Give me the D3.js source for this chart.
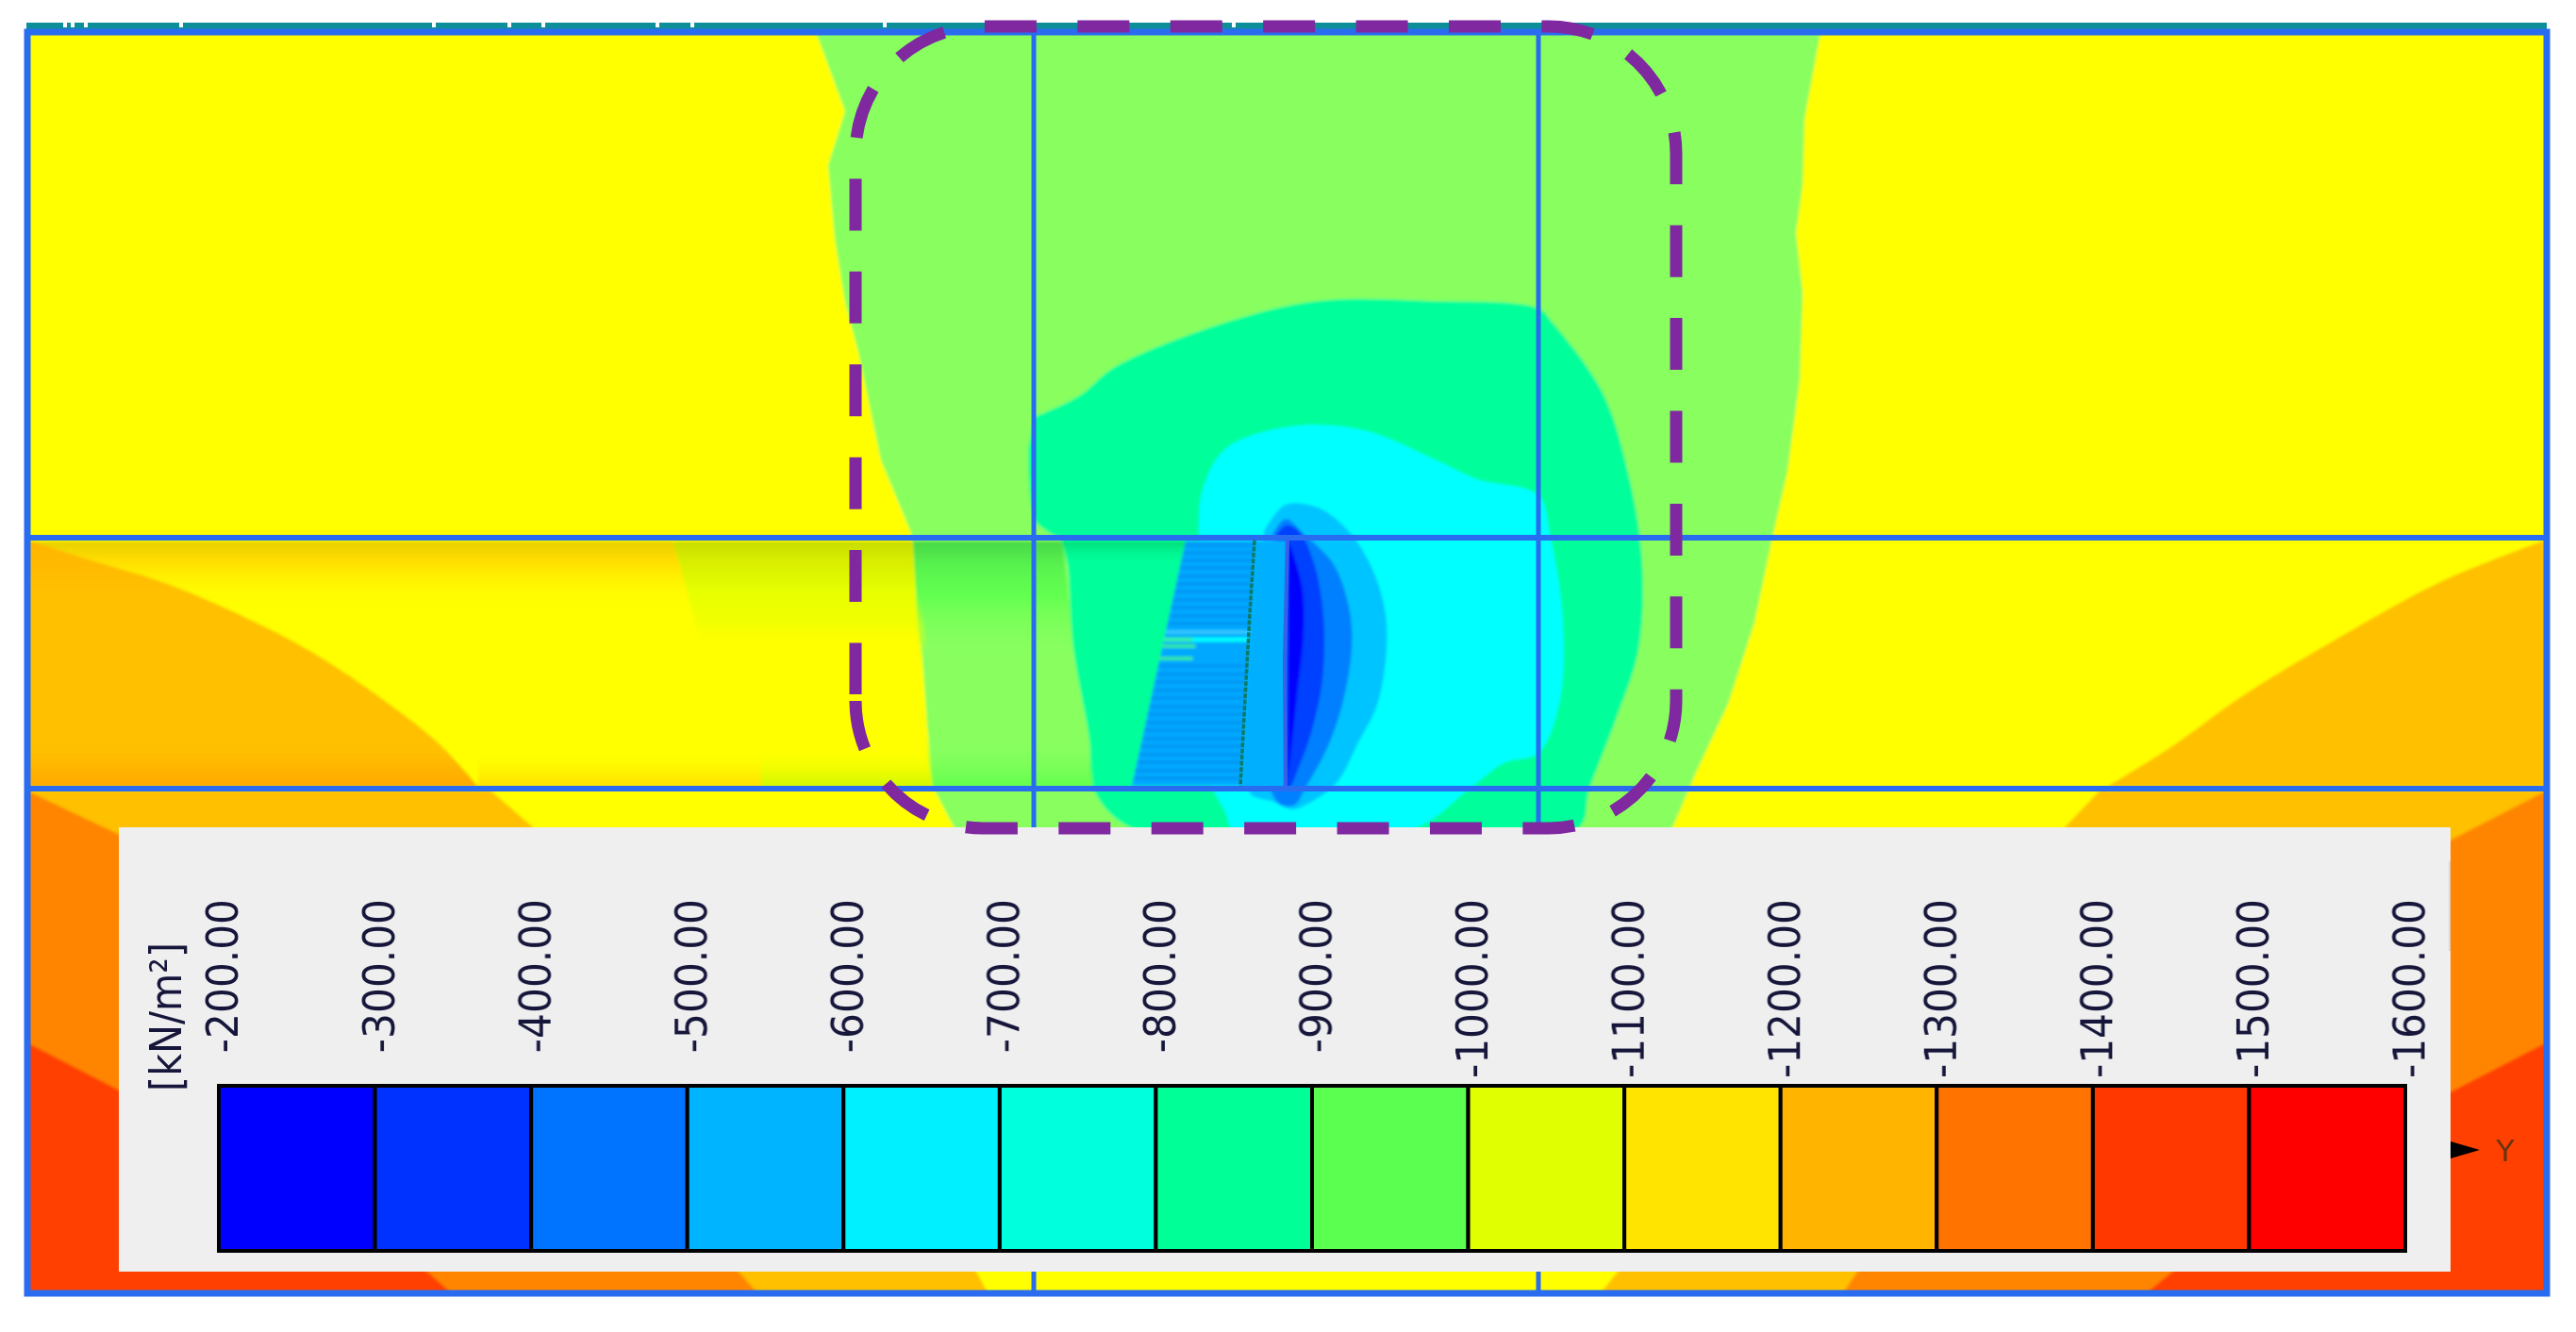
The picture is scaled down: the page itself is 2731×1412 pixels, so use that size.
<!DOCTYPE html>
<html>
<head>
<meta charset="utf-8">
<style>
    html, body { margin: 0; padding: 0; background: #fff; }
    svg { display: block; }
    .scale-label { font-family: "DejaVu Sans Condensed", "DejaVu Sans", sans-serif; fill: #15153a; }
</style>
</head>
<body>
<svg id="chart" width="2731" height="1412"></svg>
<script src="https://cdn.jsdelivr.net/npm/d3@7"></script>
<script>
// legend
const levelValues = [-200, -300, -400, -500, -600, -700, -800, -900, -1000, -1100, -1200, -1300, -1400, -1500, -1600];
const levelColors = ['#0000ff', '#0032ff', '#0073ff', '#00b4ff', '#00f0ff', '#00ffdc', '#00ff96', '#5aff50',
    '#e0ff00', '#ffe400', '#ffb400', '#ff7300', '#ff3700', '#ff0000'];
const unitLabel = '[kN/m²]';
const axisLabel = 'Y';

// contour outlines, [x, y] in model units
const gridX = [1096, 1631];
const gridY = [570, 836];
const lowerLeftGold = [[28, 838], [520, 838], [564, 876], [1035, 1348], [1048, 1372], [28, 1372]];
const lowerLeftOrange = [[28, 838], [125, 884], [784, 1349], [804, 1372], [28, 1372]];
const lowerLeftRed = [[28, 1105], [125, 1155], [453, 1348], [480, 1372], [28, 1372]];
const lowerRightGold = [[2700, 838], [2226, 838], [2189, 877], [1715, 1348], [1696, 1372], [2700, 1372]];
const lowerRightOrange = [[2700, 838], [2599, 890], [1969, 1348], [1953, 1372], [2700, 1372]];
const lowerRightRed = [[2700, 1105], [2599, 1157], [2303, 1348], [2274, 1372], [2700, 1372]];
const midLeftGold = [[28, 572], [96, 594], [172, 617], [255, 652], [332, 692], [408, 743], [466, 789], [507, 834]];
const midLeftGoldTail = [[28, 834]];
const midRightGold = [[2700, 572], [2589, 616], [2483, 674], [2377, 738], [2303, 791], [2234, 834]];
const midRightGoldTail = [[2700, 834]];
const greenZone = [[865, 34], [896, 118], [878, 175], [885, 253], [896, 321], [910, 373], [934, 488], [966, 565],
    [973, 631], [983, 769], [990, 836], [1013, 880], [1772, 880], [1797, 821], [1832, 746], [1860, 660], [1878, 574],
    [1895, 499], [1908, 402], [1911, 310], [1904, 247], [1911, 195], [1913, 126], [1930, 34]];
const tealZone = [[1096, 442], [1145, 419], [1180, 390], [1292, 344], [1397, 319], [1516, 319], [1631, 327], [1646, 342],
    [1699, 416], [1727, 505], [1741, 597], [1737, 689], [1713, 763], [1685, 836], [1671, 880], [1205, 880], [1159, 836],
    [1155, 786], [1138, 689], [1126, 574], [1113, 565], [1097, 551], [1090, 476]];
const cyanZone = [[1271, 565], [1274, 522], [1299, 476], [1369, 452], [1446, 456], [1523, 488], [1566, 508], [1631, 525],
    [1643, 565], [1657, 660], [1653, 746], [1631, 798], [1594, 809], [1558, 836], [1495, 880], [1308, 880], [1299, 861], [1285, 836]];
const lobeLightBlue = [[1340, 563], [1363, 535], [1397, 538], [1427, 560], [1450, 593], [1467, 640], [1470, 687], [1460, 747],
    [1440, 787], [1417, 830], [1390, 850], [1370, 858], [1350, 850], [1327, 843], [1323, 835]];
const lobeMidBlue = [[1350, 565], [1363, 550], [1383, 567], [1413, 597], [1430, 643], [1433, 687], [1423, 747], [1407, 793],
    [1383, 837], [1373, 853], [1357, 853], [1348, 840]];
const lobeDeepBlue = [[1353, 567], [1363, 557], [1377, 563], [1393, 597], [1403, 653], [1402, 720], [1390, 777], [1377, 813], [1367, 835], [1362, 835]];
const lobeCore = [[1366, 573], [1380, 620], [1382, 670], [1375, 737], [1368, 803], [1365, 825]];
const wallFace = [[1330, 573], [1364, 573], [1362, 835], [1315, 835]];
const soilWedge = [[1257, 573], [1330, 573], [1315, 833], [1200, 833]];
const wallLine = [[1330, 573], [1325, 650], [1320, 740], [1315, 833]];
const faceLine = [[1365, 572], [1362, 700], [1363, 835]];

// shaded bands along the wall layer
const bandTopLeft = [[31, 574], [714, 574], [735, 650], [31, 650]];
const bandTopYellowGreen = [[714, 574], [968, 574], [983, 690], [745, 690]];
const bandTopGreen = [[968, 574], [1126, 574], [1140, 700], [975, 700]];
const bandTopTeal = [[1126, 574], [1257, 574], [1250, 600], [1130, 600]];
const bandLowGold = [[507, 800], [807, 800], [807, 834], [507, 834]];
const bandLowYellowGreen = [[807, 795], [985, 795], [989, 834], [807, 834]];
const bandLowGreen = [[980, 780], [1155, 780], [1159, 834], [989, 834]];

// horizontal streaks in the soil wedge
const streakDark = [578, 586, 594, 602, 611, 619, 627, 636, 644, 653, 661, 706, 715, 723, 732, 740, 749, 757, 766, 774, 783, 791, 800, 808, 817, 825];
const streakLight = [670];
const streakBright = [678];
const streakGreen = [685, 698];

const topNicks = [67, 75, 89, 190, 458, 538, 574, 695, 732, 936, 1306];
const highlightBox = { left: 907, right: 1777, top: 28, bottom: 878, r: 135 };

const width = 2731, height = 1412;
const frame = { left: 29, right: 2700, top: 34, bottom: 1371 };
const panel = { left: 126, right: 2598, top: 877, bottom: 1348 };
const bar = { top: 1151, bottom: 1326, left: 232, right: 2550 };

const x = d3.scaleLinear().domain([28, 2700]).range([28, 2700]);
const y = d3.scaleLinear().domain([28, 1372]).range([28, 1372]);
const levelX = d3.scaleLinear().domain(d3.extent(levelValues).reverse()).range([bar.left, bar.right]);

const svg = d3.select('#chart');
const defs = svg.append('defs');
defs.append('filter').attr('id', 'soft').attr('x', 0).attr('y', 0).attr('width', 1).attr('height', 1)
    .append('feGaussianBlur').attr('stdDeviation', 1.4);
defs.append('filter').attr('id', 'softText').attr('x', '-5%').attr('y', '-5%').attr('width', '110%').attr('height', '110%')
    .append('feGaussianBlur').attr('stdDeviation', 0.7);

const outline = d3.line().x(d => x(d[0])).y(d => y(d[1]));
const smooth = d3.line().x(d => x(d[0])).y(d => y(d[1])).curve(d3.curveCatmullRom.alpha(0.5));
const closed = pts => outline(pts) + 'Z';
const closedSmooth = (pts, tail) => smooth(pts) + (tail || []).map(p => 'L' + x(p[0]) + ',' + y(p[1])).join('') + 'Z';

function verticalGradient(id, y0, y1, stops) {
    const g = defs.append('linearGradient').attr('id', id)
        .attr('gradientUnits', 'userSpaceOnUse')
        .attr('x1', 0).attr('x2', 0).attr('y1', y(y0)).attr('y2', y(y1));
    stops.forEach(s => g.append('stop').attr('offset', s[0]).attr('stop-color', s[1]).attr('stop-opacity', s[2]));
    return 'url(#' + id + ')';
}

const field = svg.append('g').attr('filter', 'url(#soft)');
const area = (pts, fill) => field.append('path').attr('d', closed(pts)).attr('fill', fill);
const smoothArea = (pts, fill, tail) => field.append('path').attr('d', closedSmooth(pts, tail)).attr('fill', fill);

area([[28, 34], [2700, 34], [2700, 1372], [28, 1372]], '#ffff00');
area(lowerLeftGold, '#ffc000');
area(lowerRightGold, '#ffc000');
area(lowerLeftOrange, '#ff8500');
area(lowerRightOrange, '#ff8500');
area(lowerLeftRed, '#ff4000');
area(lowerRightRed, '#ff4000');

area(bandTopLeft, verticalGradient('bandA', 574, 650, [[0, '#e6d000', 1], [0.25, '#ffdc00', 1], [0.55, '#fff000', 0.8], [1, '#ffff00', 0]]));
area(bandLowGold, verticalGradient('bandE', 800, 834, [[0, '#fff000', 0], [1, '#ffe000', 1]]));
smoothArea(midLeftGold, verticalGradient('goldFade', 574, 834, [[0, '#ffb400', 1], [0.2, '#ffc000', 1], [0.85, '#ffc000', 1], [1, '#ffa800', 1]]), midLeftGoldTail);
smoothArea(midRightGold, '#ffc000', midRightGoldTail);
area(greenZone, '#88ff5f');
smoothArea(tealZone, '#00ff9a');
smoothArea(cyanZone, '#00ffff');

area(bandTopYellowGreen, verticalGradient('bandB', 574, 690, [[0, '#c8dc00', 1], [0.18, '#d8ee00', 1], [0.45, '#e6ff00', 1], [0.75, '#f0ff00', 0.9], [1, '#ffff00', 0]]));
area(bandTopGreen, verticalGradient('bandC', 574, 700, [[0, '#48d848', 1], [0.2, '#58f24e', 1], [0.45, '#62ff50', 1], [1, '#88ff5f', 0]]));
area(bandTopTeal, verticalGradient('bandD', 574, 600, [[0, '#00dc78', 1], [1, '#00ff9a', 0]]));
area(bandLowYellowGreen, verticalGradient('bandF', 795, 834, [[0, '#f0ff00', 0], [1, '#d0f800', 1]]));
area(bandLowGreen, verticalGradient('bandG', 780, 834, [[0, '#88ff5f', 0], [1, '#62ff4c', 1]]));

smoothArea(lobeLightBlue, '#00c4ff');
smoothArea(lobeMidBlue, '#0080ff');
smoothArea(lobeDeepBlue, '#0040ff');
smoothArea(lobeCore, '#0000ff');
area(soilWedge, '#00a8ff');
area(wallFace, '#00b0ff');

// wedge streaks run between the two slanted edges
const wedgeLeft = d3.scaleLinear().domain([573, 833]).range([1257, 1200]);
const wedgeRight = d3.scaleLinear().domain([573, 833]).range([1330, 1315]);
const streaks = (ys, color, w, from, to) => field.append('g').selectAll('line').data(ys).join('line')
    .attr('x1', d => x(from(d))).attr('x2', d => x(to(d)))
    .attr('y1', d => y(d)).attr('y2', d => y(d))
    .attr('stroke', color).attr('stroke-width', w);
streaks(streakDark, '#0090ee', 2.5, wedgeLeft, wedgeRight);
streaks(streakLight, '#30c8ff', 4, wedgeLeft, wedgeRight);
streaks(streakBright, '#00ffff', 5, d => wedgeLeft(d) + 30, wedgeRight);
streaks(streakBright, '#30f0b0', 5, wedgeLeft, d => wedgeLeft(d) + 30);
streaks(streakGreen, '#30e8a0', 4, wedgeLeft, d => wedgeLeft(d) + 35);

// grid lines and frame
const lines = svg.append('g').attr('filter', 'url(#softText)');
lines.append('path').attr('d', outline(wallLine)).attr('fill', 'none')
    .attr('stroke', '#0d7a66').attr('stroke-width', 3.5).attr('stroke-dasharray', '5 1.5');
lines.append('path').attr('d', outline(faceLine)).attr('fill', 'none')
    .attr('stroke', '#3560e8').attr('stroke-width', 4);

lines.selectAll('line.h').data(gridY).join('line').attr('class', 'h')
    .attr('x1', x(frame.left)).attr('x2', x(frame.right)).attr('y1', d => y(d)).attr('y2', d => y(d))
    .attr('stroke', '#2a6cf0').attr('stroke-width', 6);
lines.selectAll('line.v').data(gridX).join('line').attr('class', 'v')
    .attr('x1', d => x(d)).attr('x2', d => x(d)).attr('y1', y(frame.top)).attr('y2', y(frame.bottom))
    .attr('stroke', '#2a6cf0').attr('stroke-width', 5);
lines.append('rect').attr('x', x(28)).attr('y', 24).attr('width', x(2700) - x(28)).attr('height', 8).attr('fill', '#0e8f9a');
lines.selectAll('rect.nick').data(topNicks).join('rect').attr('class', 'nick')
    .attr('x', d => x(d)).attr('y', 22).attr('width', 4).attr('height', 7).attr('fill', '#fff');
lines.append('rect')
    .attr('x', x(frame.left)).attr('y', y(frame.top))
    .attr('width', x(frame.right) - x(frame.left)).attr('height', y(frame.bottom) - y(frame.top))
    .attr('fill', 'none').attr('stroke', '#2a6cf0').attr('stroke-width', 7);

// legend panel
svg.append('rect')
    .attr('x', panel.left).attr('y', panel.top)
    .attr('width', panel.right - panel.left).attr('height', panel.bottom - panel.top)
    .attr('fill', '#efefef');
svg.append('line').attr('x1', panel.right - 1).attr('x2', panel.right - 1).attr('y1', 913).attr('y2', 1008)
    .attr('stroke', '#d9d9d9').attr('stroke-width', 2);

const legend = svg.append('g').attr('filter', 'url(#softText)');
legend.selectAll('rect.swatch').data(levelColors).join('rect').attr('class', 'swatch')
    .attr('x', (d, i) => levelX(levelValues[i]))
    .attr('y', bar.top)
    .attr('width', (d, i) => levelX(levelValues[i + 1]) - levelX(levelValues[i]))
    .attr('height', bar.bottom - bar.top)
    .attr('fill', d => d)
    .attr('stroke', '#000').attr('stroke-width', 4);

const axis = d3.axisTop(levelX)
    .tickValues(levelValues)
    .tickSize(0)
    .tickFormat(d => d.toFixed(2));
const axisG = legend.append('g').attr('transform', 'translate(0,' + bar.top + ')').call(axis);
axisG.select('.domain').remove();
axisG.selectAll('text')
    .attr('class', 'scale-label')
    .style('font-size', '47px')
    .attr('text-anchor', 'end')
    .attr('transform', 'rotate(-90)')
    .attr('x', 198)
    .attr('y', 3)
    .attr('dy', '0.36em');

legend.append('text').attr('class', 'scale-label')
    .attr('transform', 'translate(175,1157) rotate(-90)')
    .attr('dy', '0.36em')
    .style('font-size', '46px')
    .text(unitLabel);

// axis marker
const marker = d3.line()([[2598, 1210], [2629, 1219], [2598, 1228]]);
legend.append('path').attr('d', marker + 'Z').attr('fill', '#000');
legend.append('text').attr('x', 2656).attr('y', 1219).attr('dy', '0.36em').attr('text-anchor', 'middle')
    .style('font-family', '"DejaVu Sans", sans-serif').style('font-size', '32px').attr('fill', '#6a3410')
    .text(axisLabel);

// dashed highlight box
const b = highlightBox;
const boxPath = d3.path();
boxPath.moveTo(x(b.left), y(746));
boxPath.arcTo(x(b.left), y(b.bottom), x(b.left + b.r), y(b.bottom), b.r);
boxPath.lineTo(x(b.right - b.r), y(b.bottom));
boxPath.arcTo(x(b.right), y(b.bottom), x(b.right), y(b.bottom - b.r), b.r);
boxPath.lineTo(x(b.right), y(b.top + b.r));
boxPath.arcTo(x(b.right), y(b.top), x(b.right - b.r), y(b.top), b.r);
boxPath.lineTo(x(b.left + b.r), y(b.top));
boxPath.arcTo(x(b.left), y(b.top), x(b.left), y(b.top + b.r), b.r);
boxPath.lineTo(x(b.left), y(736));
const box = svg.append('path')
    .attr('d', boxPath.toString())
    .attr('fill', 'none')
    .attr('stroke', '#7f28a0')
    .attr('stroke-width', 13);
// fit the dash period so the run closes on a full dash at the seam
const dash = 55;
const boxLength = box.node().getTotalLength();
const period = (boxLength - dash) / Math.round((boxLength - dash) / 98);
box.attr('stroke-dasharray', dash + ' ' + (period - dash));
</script>
</body>
</html>
